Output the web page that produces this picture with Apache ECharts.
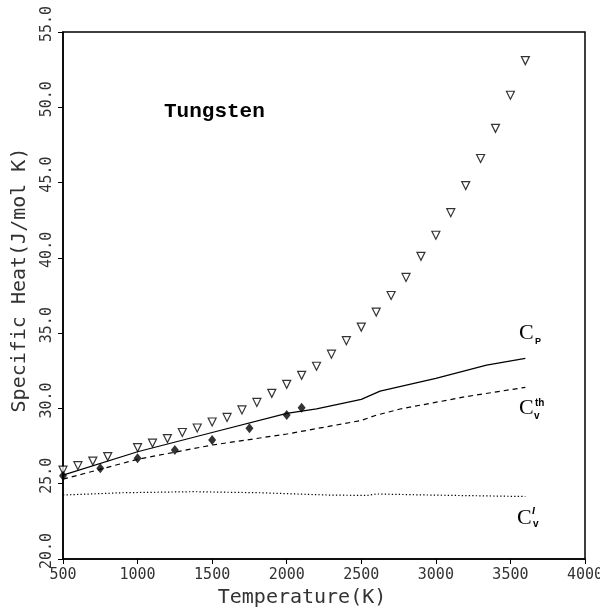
<!DOCTYPE html>
<html>
<head>
<meta charset="utf-8">
<script src="https://cdn.jsdelivr.net/npm/echarts@6/dist/echarts.min.js"></script>
<style>html,body{margin:0;padding:0;background:#fff;}#c{width:600px;height:609px;}</style>
</head>
<body>
<div id="c"></div>
<script>
// Data
const triT = [500,600,700,800,1000,1100,1200,1300,1400,1500,1600,1700,1800,1900,2000,2100,2200,2300,2400,2500,2600,2700,2800,2900,3000,3100,3200,3300,3400,3500,3600];
const triC = [25.9,26.2,26.5,26.8,27.4,27.7,28.0,28.4,28.7,29.1,29.4,29.9,30.4,31.0,31.6,32.2,32.8,33.6,34.5,35.4,36.4,37.5,38.7,40.1,41.5,43.0,44.8,46.6,48.6,50.8,53.1];
const diaT = [500,750,1000,1250,1500,1750,2000,2100];
const diaC = [25.53,26.02,26.69,27.24,27.9,28.68,29.56,30.05];
const cpT = [500,1000,1500,2000,2200,2500,2626,3000,3340,3600];
const cpC = [25.57,27.12,28.4,29.67,29.97,30.6,31.15,32.0,32.88,33.33];
const cthT = [500,1000,1500,2000,2500,2600,2760,3200,3600];
const cthC = [25.3,26.62,27.57,28.3,29.2,29.55,29.96,30.78,31.4];
const clT = [500,900,1370,1820,2270,2540,2600,2940,3600];
const clC = [24.25,24.4,24.47,24.4,24.25,24.22,24.32,24.25,24.15];
const xTicks = [500,1000,1500,2000,2500,3000,3500,4000];
const yTicks = [20,25,30,35,40,45,50,55];

const zip = (a,b) => a.map((v,i)=>[v,b[i]]);
const chart = echarts.init(document.getElementById('c'));
const mono = 'DejaVu Sans Mono';
chart.setOption({
  animation: false,
  backgroundColor: '#fff',
  grid: {left: 63, right: 15, top: 32, bottom: 50, show: true, borderColor: '#000', borderWidth: 1.5,
    containLabel: false, outerBoundsMode: 'none'},
  xAxis: {
    type: 'value', min: xTicks[0], max: xTicks[xTicks.length-1], interval: 500,
    name: 'Temperature(K)', nameLocation: 'middle', nameGap: 28,
    nameTextStyle: {fontFamily: mono, fontSize: 20, color: '#333', padding: [0, 44, 0, 0]},
    axisLine: {lineStyle: {color: '#000', width: 1.5}},
    axisTick: {show: true, length: 5, lineStyle: {color: '#000'}},
    axisLabel: {fontFamily: mono, fontSize: 15, color: '#333', margin: 9, formatter: v => String(v)},
    splitLine: {show: false}
  },
  yAxis: {
    type: 'value', min: yTicks[0], max: yTicks[yTicks.length-1], interval: 5,
    name: 'Specific Heat(J/mol K)', nameLocation: 'middle', nameGap: 33,
    nameTextStyle: {fontFamily: mono, fontSize: 20, color: '#333', padding: [0, 0, 0, 31]},
    axisLine: {lineStyle: {color: '#000', width: 1.5}},
    axisTick: {show: true, length: 5, lineStyle: {color: '#000'}},
    axisLabel: {fontFamily: mono, fontSize: 15, color: '#333', margin: 8, rotate: 90,
      padding: [0, 0, 0, 16], formatter: v => v.toFixed(1)},
    splitLine: {show: false}
  },
  series: [
    {type: 'line', data: zip(cpT, cpC), showSymbol: false, lineStyle: {color: '#000', width: 1.2}},
    {type: 'line', data: zip(cthT, cthC), showSymbol: false, lineStyle: {color: '#000', width: 1.2, type: [5, 4]}},
    {type: 'line', data: zip(clT, clC), showSymbol: false, lineStyle: {color: '#000', width: 1.2, type: [1.3, 2.2]}},
    {type: 'scatter', data: zip(triT, triC), symbol: 'triangle', symbolRotate: 180, symbolSize: 8,
      itemStyle: {color: '#fff', borderColor: '#000', borderWidth: 1.2}, z: 5},
    {type: 'scatter', data: zip(diaT, diaC), symbol: 'diamond', symbolSize: [8, 10],
      itemStyle: {color: '#000'}, z: 6}
  ],
  graphic: [
    {type: 'text', left: 164, top: 101, style: {text: 'Tungsten', font: 'bold 21px "Liberation Mono"', fill: '#000'}},
    {type: 'text', left: 519, top: 322, style: {text: 'C', font: '22px "Liberation Serif"', fill: '#000'}},
    {type: 'text', left: 535, top: 337, style: {text: 'P', font: 'bold 9px "Liberation Sans"', fill: '#000'}},
    {type: 'text', left: 519, top: 397, style: {text: 'C', font: '22px "Liberation Serif"', fill: '#000'}},
    {type: 'text', left: 535, top: 398, style: {text: 'th', font: 'bold 10px "Liberation Sans"', fill: '#000'}},
    {type: 'text', left: 534, top: 411, style: {text: 'v', font: 'bold 10px "Liberation Sans"', fill: '#000'}},
    {type: 'text', left: 517, top: 507, style: {text: 'C', font: '22px "Liberation Serif"', fill: '#000'}},
    {type: 'text', left: 532, top: 506, style: {text: 'l', font: 'italic bold 11px "Liberation Serif"', fill: '#000'}},
    {type: 'text', left: 533, top: 519, style: {text: 'v', font: 'bold 10px "Liberation Sans"', fill: '#000'}}
  ]
});
</script>
</body>
</html>
